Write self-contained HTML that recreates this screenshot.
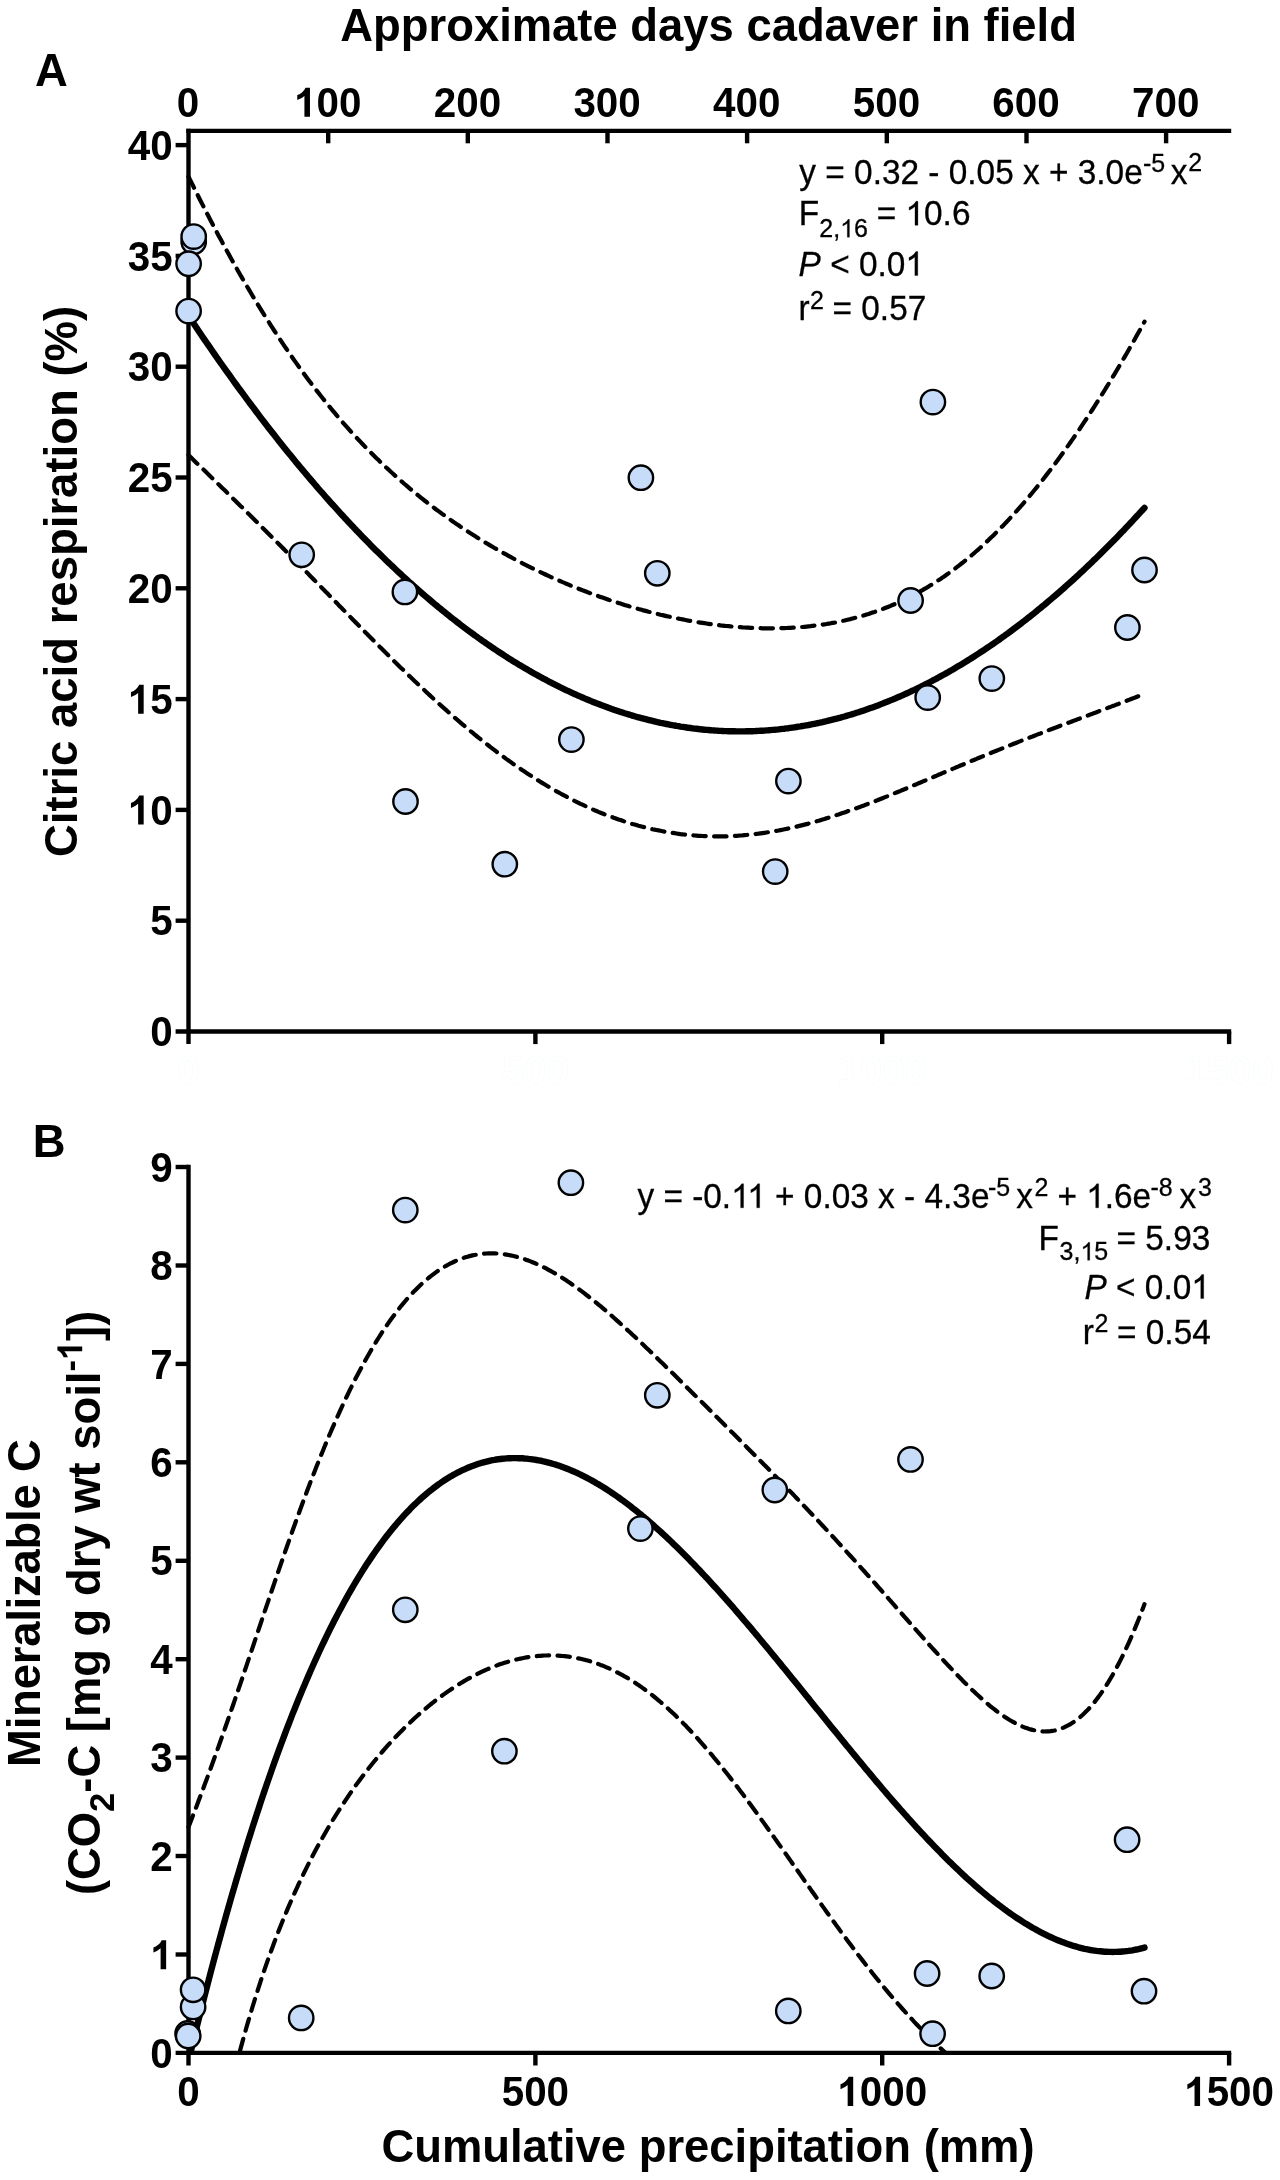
<!DOCTYPE html>
<html><head><meta charset="utf-8"><title>Figure</title>
<style>html,body{margin:0;padding:0;background:#fff}svg{display:block;will-change:transform}text{font-family:"Liberation Sans",sans-serif;fill:#000}.b{font-weight:bold}.r{font-weight:normal;stroke:#000;stroke-width:.3px}.r1{stroke:#000;stroke-width:18}.h{font-size:45.4px;font-weight:bold}.hs{font-size:34.5px;font-weight:bold}.ax{stroke:#000;stroke-width:4.4;fill:none;stroke-linecap:butt}.fit{stroke:#000;stroke-width:6.4;fill:none;stroke-linecap:round;stroke-linejoin:round}.ci{stroke:#000;stroke-width:4.2;fill:none;stroke-linecap:round;stroke-linejoin:round;stroke-dasharray:12.4 8.4}.pt{fill:#c7dcf8;stroke:#000;stroke-width:2.4}</style></head><body>
<svg width="1280" height="2180" viewBox="0 0 1280 2180">
<rect width="1280" height="2180" fill="#fff"/>
<defs><clipPath id="cb"><rect x="150" y="1100" width="1130" height="953"/></clipPath></defs>
<g class="ax">
<path d="M186.3 130.9 H1231.2"/>
<path d="M188.5 128.7 V1044.1"/>
<path d="M175.6 1031.5 H1231.2"/>
<path d="M328.2 130.9 V143.3"/>
<path d="M467.8 130.9 V143.3"/>
<path d="M607.5 130.9 V143.3"/>
<path d="M747.1 130.9 V143.3"/>
<path d="M886.8 130.9 V143.3"/>
<path d="M1026.5 130.9 V143.3"/>
<path d="M1166.1 130.9 V143.3"/>
<path d="M535.4 1031.5 V1044.1"/>
<path d="M882.2 1031.5 V1044.1"/>
<path d="M1229.1 1031.5 V1044.1"/>
<path d="M175.6 920.7 H188.5"/>
<path d="M175.6 809.9 H188.5"/>
<path d="M175.6 699.1 H188.5"/>
<path d="M175.6 588.3 H188.5"/>
<path d="M175.6 477.5 H188.5"/>
<path d="M175.6 366.7 H188.5"/>
<path d="M175.6 255.9 H188.5"/>
<path d="M175.6 145.1 H188.5"/>
<path d="M188.5 1164.8 V2065.5"/>
<path d="M175.6 2052.9 H1231.2"/>
<path d="M535.4 2052.9 V2065.5"/>
<path d="M882.2 2052.9 V2065.5"/>
<path d="M1229.1 2052.9 V2065.5"/>
<path d="M175.6 1954.5 H188.5"/>
<path d="M175.6 1856.0 H188.5"/>
<path d="M175.6 1757.6 H188.5"/>
<path d="M175.6 1659.2 H188.5"/>
<path d="M175.6 1560.8 H188.5"/>
<path d="M175.6 1462.3 H188.5"/>
<path d="M175.6 1363.9 H188.5"/>
<path d="M175.6 1265.5 H188.5"/>
<path d="M175.6 1167.0 H188.5"/>
</g>
<path class="ci" d="M188.5 176.6 L190.5 180.6 L192.5 184.7 L194.5 188.7 L196.5 192.7 L198.5 196.7 L200.5 200.7 L202.5 204.6 L204.5 208.6 L206.5 212.5 L208.5 216.3 L210.5 220.2 L212.5 224.0 L214.5 227.8 L216.5 231.6 L218.5 235.4 L220.5 239.1 L222.5 242.8 L224.5 246.5 L226.5 250.2 L228.5 253.8 L230.5 257.4 L232.5 261.0 L234.5 264.6 L236.5 268.1 L238.5 271.7 L240.5 275.2 L242.5 278.6 L244.5 282.1 L246.5 285.5 L248.5 288.9 L250.5 292.3 L252.5 295.7 L254.5 299.0 L256.5 302.3 L258.5 305.6 L260.5 308.8 L262.5 312.1 L264.5 315.3 L266.5 318.5 L268.5 321.6 L270.5 324.8 L272.5 327.9 L274.5 331.0 L276.5 334.0 L278.5 337.1 L280.5 340.1 L282.5 343.1 L284.5 346.1 L286.5 349.0 L288.5 351.9 L290.5 354.8 L292.5 357.7 L294.5 360.6 L296.5 363.4 L298.5 366.2 L300.5 369.0 L302.5 371.7 L304.5 374.5 L306.5 377.2 L308.5 379.9 L310.5 382.5 L312.5 385.2 L314.5 387.8 L316.5 390.4 L318.5 392.9 L320.5 395.5 L322.5 398.0 L324.5 400.5 L326.5 403.0 L328.5 405.5 L330.5 407.9 L332.5 410.3 L334.5 412.7 L336.5 415.1 L338.5 417.4 L340.5 419.8 L342.5 422.1 L344.5 424.4 L346.5 426.6 L348.5 428.9 L350.5 431.1 L352.5 433.3 L354.5 435.5 L356.5 437.6 L358.5 439.8 L360.5 441.9 L362.5 444.0 L364.5 446.1 L366.5 448.2 L368.5 450.2 L370.5 452.2 L372.5 454.2 L374.5 456.2 L376.5 458.2 L378.5 460.1 L380.5 462.1 L382.5 464.0 L384.5 465.9 L386.5 467.8 L388.5 469.6 L390.5 471.5 L392.5 473.3 L394.5 475.1 L396.5 476.9 L398.5 478.7 L400.5 480.5 L402.5 482.2 L404.5 484.0 L406.5 485.7 L408.5 487.4 L410.5 489.1 L412.5 490.7 L414.5 492.4 L416.5 494.0 L418.5 495.7 L420.5 497.3 L422.5 498.9 L424.5 500.5 L426.5 502.0 L428.5 503.6 L430.5 505.1 L432.5 506.6 L434.5 508.2 L436.5 509.7 L438.5 511.1 L440.5 512.6 L442.5 514.1 L444.5 515.5 L446.5 517.0 L448.5 518.4 L450.5 519.8 L452.5 521.2 L454.5 522.6 L456.5 524.0 L458.5 525.3 L460.5 526.7 L462.5 528.0 L464.5 529.3 L466.5 530.7 L468.5 532.0 L470.5 533.3 L472.5 534.5 L474.5 535.8 L476.5 537.1 L478.5 538.3 L480.5 539.6 L482.5 540.8 L484.5 542.0 L486.5 543.2 L488.5 544.4 L490.5 545.6 L492.5 546.8 L494.5 548.0 L496.5 549.1 L498.5 550.3 L500.5 551.4 L502.5 552.5 L504.5 553.6 L506.5 554.7 L508.5 555.8 L510.5 556.9 L512.5 558.0 L514.5 559.1 L516.5 560.1 L518.5 561.2 L520.5 562.2 L522.5 563.3 L524.5 564.3 L526.5 565.3 L528.5 566.3 L530.5 567.3 L532.5 568.3 L534.5 569.3 L536.5 570.2 L538.5 571.2 L540.5 572.2 L542.5 573.1 L544.5 574.0 L546.5 575.0 L548.5 575.9 L550.5 576.8 L552.5 577.7 L554.5 578.6 L556.5 579.5 L558.5 580.4 L560.5 581.2 L562.5 582.1 L564.5 582.9 L566.5 583.8 L568.5 584.6 L570.5 585.5 L572.5 586.3 L574.5 587.1 L576.5 587.9 L578.5 588.7 L580.5 589.5 L582.5 590.3 L584.5 591.0 L586.5 591.8 L588.5 592.6 L590.5 593.3 L592.5 594.0 L594.5 594.8 L596.5 595.5 L598.5 596.2 L600.5 596.9 L602.5 597.6 L604.5 598.3 L606.5 599.0 L608.5 599.7 L610.5 600.4 L612.5 601.0 L614.5 601.7 L616.5 602.3 L618.5 603.0 L620.5 603.6 L622.5 604.2 L624.5 604.9 L626.5 605.5 L628.5 606.1 L630.5 606.7 L632.5 607.3 L634.5 607.8 L636.5 608.4 L638.5 609.0 L640.5 609.5 L642.5 610.1 L644.5 610.6 L646.5 611.1 L648.5 611.7 L650.5 612.2 L652.5 612.7 L654.5 613.2 L656.5 613.7 L658.5 614.2 L660.5 614.7 L662.5 615.1 L664.5 615.6 L666.5 616.1 L668.5 616.5 L670.5 617.0 L672.5 617.4 L674.5 617.8 L676.5 618.2 L678.5 618.6 L680.5 619.0 L682.5 619.4 L684.5 619.8 L686.5 620.2 L688.5 620.6 L690.5 620.9 L692.5 621.3 L694.5 621.6 L696.5 622.0 L698.5 622.3 L700.5 622.6 L702.5 622.9 L704.5 623.2 L706.5 623.5 L708.5 623.8 L710.5 624.1 L712.5 624.4 L714.5 624.6 L716.5 624.9 L718.5 625.1 L720.5 625.4 L722.5 625.6 L724.5 625.8 L726.5 626.0 L728.5 626.2 L730.5 626.4 L732.5 626.6 L734.5 626.8 L736.5 626.9 L738.5 627.1 L740.5 627.2 L742.5 627.4 L744.5 627.5 L746.5 627.6 L748.5 627.7 L750.5 627.8 L752.5 627.9 L754.5 628.0 L756.5 628.1 L758.5 628.2 L760.5 628.2 L762.5 628.3 L764.5 628.3 L766.5 628.3 L768.5 628.3 L770.5 628.3 L772.5 628.3 L774.5 628.3 L776.5 628.3 L778.5 628.3 L780.5 628.2 L782.5 628.1 L784.5 628.1 L786.5 628.0 L788.5 627.9 L790.5 627.8 L792.5 627.7 L794.5 627.6 L796.5 627.4 L798.5 627.3 L800.5 627.1 L802.5 627.0 L804.5 626.8 L806.5 626.6 L808.5 626.4 L810.5 626.2 L812.5 625.9 L814.5 625.7 L816.5 625.4 L818.5 625.2 L820.5 624.9 L822.5 624.6 L824.5 624.3 L826.5 624.0 L828.5 623.6 L830.5 623.3 L832.5 622.9 L834.5 622.6 L836.5 622.2 L838.5 621.8 L840.5 621.3 L842.5 620.9 L844.5 620.5 L846.5 620.0 L848.5 619.5 L850.5 619.1 L852.5 618.5 L854.5 618.0 L856.5 617.5 L858.5 616.9 L860.5 616.4 L862.5 615.8 L864.5 615.2 L866.5 614.6 L868.5 614.0 L870.5 613.3 L872.5 612.6 L874.5 612.0 L876.5 611.3 L878.5 610.6 L880.5 609.8 L882.5 609.1 L884.5 608.3 L886.5 607.5 L888.5 606.7 L890.5 605.9 L892.5 605.0 L894.5 604.2 L896.5 603.3 L898.5 602.4 L900.5 601.5 L902.5 600.6 L904.5 599.6 L906.5 598.6 L908.5 597.6 L910.5 596.6 L912.5 595.6 L914.5 594.5 L916.5 593.5 L918.5 592.4 L920.5 591.2 L922.5 590.1 L924.5 588.9 L926.5 587.8 L928.5 586.6 L930.5 585.3 L932.5 584.1 L934.5 582.8 L936.5 581.5 L938.5 580.2 L940.5 578.9 L942.5 577.6 L944.5 576.2 L946.5 574.8 L948.5 573.4 L950.5 571.9 L952.5 570.4 L954.5 569.0 L956.5 567.4 L958.5 565.9 L960.5 564.3 L962.5 562.8 L964.5 561.2 L966.5 559.5 L968.5 557.9 L970.5 556.2 L972.5 554.5 L974.5 552.8 L976.5 551.0 L978.5 549.3 L980.5 547.5 L982.5 545.6 L984.5 543.8 L986.5 541.9 L988.5 540.1 L990.5 538.1 L992.5 536.2 L994.5 534.2 L996.5 532.3 L998.5 530.2 L1000.5 528.2 L1002.5 526.2 L1004.5 524.1 L1006.5 522.0 L1008.5 519.9 L1010.5 517.7 L1012.5 515.5 L1014.5 513.3 L1016.5 511.1 L1018.5 508.9 L1020.5 506.6 L1022.5 504.3 L1024.5 502.0 L1026.5 499.6 L1028.5 497.3 L1030.5 494.9 L1032.5 492.5 L1034.5 490.0 L1036.5 487.6 L1038.5 485.1 L1040.5 482.6 L1042.5 480.1 L1044.5 477.5 L1046.5 474.9 L1048.5 472.3 L1050.5 469.7 L1052.5 467.1 L1054.5 464.4 L1056.5 461.7 L1058.5 459.0 L1060.5 456.3 L1062.5 453.5 L1064.5 450.7 L1066.5 447.9 L1068.5 445.1 L1070.5 442.3 L1072.5 439.4 L1074.5 436.5 L1076.5 433.6 L1078.5 430.7 L1080.5 427.7 L1082.5 424.7 L1084.5 421.7 L1086.5 418.7 L1088.5 415.6 L1090.5 412.6 L1092.5 409.5 L1094.5 406.4 L1096.5 403.2 L1098.5 400.1 L1100.5 396.9 L1102.5 393.7 L1104.5 390.5 L1106.5 387.2 L1108.5 384.0 L1110.5 380.7 L1112.5 377.4 L1114.5 374.1 L1116.5 370.7 L1118.5 367.4 L1120.5 364.0 L1122.5 360.6 L1124.5 357.1 L1126.5 353.7 L1128.5 350.2 L1130.5 346.7 L1132.5 343.2 L1134.5 339.7 L1136.5 336.1 L1138.5 332.5 L1140.5 328.9 L1142.5 325.3 L1144.5 321.7"/>
<path class="ci" d="M188.5 455.1 L190.5 457.0 L192.5 459.0 L194.5 460.9 L196.5 462.9 L198.5 464.8 L200.5 466.7 L202.5 468.7 L204.5 470.6 L206.5 472.6 L208.5 474.5 L210.5 476.5 L212.5 478.4 L214.5 480.4 L216.5 482.3 L218.5 484.3 L220.5 486.2 L222.5 488.2 L224.5 490.1 L226.5 492.1 L228.5 494.1 L230.5 496.0 L232.5 498.0 L234.5 499.9 L236.5 501.9 L238.5 503.9 L240.5 505.9 L242.5 507.8 L244.5 509.8 L246.5 511.8 L248.5 513.8 L250.5 515.7 L252.5 517.7 L254.5 519.7 L256.5 521.7 L258.5 523.7 L260.5 525.7 L262.5 527.7 L264.5 529.7 L266.5 531.7 L268.5 533.7 L270.5 535.7 L272.5 537.7 L274.5 539.7 L276.5 541.7 L278.5 543.7 L280.5 545.7 L282.5 547.7 L284.5 549.8 L286.5 551.8 L288.5 553.8 L290.5 555.8 L292.5 557.9 L294.5 559.9 L296.5 561.9 L298.5 564.0 L300.5 566.0 L302.5 568.0 L304.5 570.1 L306.5 572.1 L308.5 574.1 L310.5 576.2 L312.5 578.2 L314.5 580.3 L316.5 582.3 L318.5 584.4 L320.5 586.4 L322.5 588.5 L324.5 590.5 L326.5 592.6 L328.5 594.6 L330.5 596.7 L332.5 598.7 L334.5 600.8 L336.5 602.8 L338.5 604.9 L340.5 606.9 L342.5 609.0 L344.5 611.0 L346.5 613.1 L348.5 615.1 L350.5 617.1 L352.5 619.2 L354.5 621.2 L356.5 623.3 L358.5 625.3 L360.5 627.3 L362.5 629.4 L364.5 631.4 L366.5 633.4 L368.5 635.5 L370.5 637.5 L372.5 639.5 L374.5 641.5 L376.5 643.5 L378.5 645.5 L380.5 647.6 L382.5 649.6 L384.5 651.6 L386.5 653.5 L388.5 655.5 L390.5 657.5 L392.5 659.5 L394.5 661.5 L396.5 663.4 L398.5 665.4 L400.5 667.4 L402.5 669.3 L404.5 671.3 L406.5 673.2 L408.5 675.1 L410.5 677.1 L412.5 679.0 L414.5 680.9 L416.5 682.8 L418.5 684.7 L420.5 686.6 L422.5 688.5 L424.5 690.3 L426.5 692.2 L428.5 694.1 L430.5 695.9 L432.5 697.8 L434.5 699.6 L436.5 701.4 L438.5 703.2 L440.5 705.1 L442.5 706.9 L444.5 708.6 L446.5 710.4 L448.5 712.2 L450.5 714.0 L452.5 715.7 L454.5 717.5 L456.5 719.2 L458.5 720.9 L460.5 722.6 L462.5 724.3 L464.5 726.0 L466.5 727.7 L468.5 729.4 L470.5 731.1 L472.5 732.7 L474.5 734.4 L476.5 736.0 L478.5 737.6 L480.5 739.2 L482.5 740.8 L484.5 742.4 L486.5 744.0 L488.5 745.5 L490.5 747.1 L492.5 748.6 L494.5 750.1 L496.5 751.7 L498.5 753.2 L500.5 754.7 L502.5 756.1 L504.5 757.6 L506.5 759.1 L508.5 760.5 L510.5 761.9 L512.5 763.4 L514.5 764.8 L516.5 766.2 L518.5 767.5 L520.5 768.9 L522.5 770.3 L524.5 771.6 L526.5 772.9 L528.5 774.2 L530.5 775.5 L532.5 776.8 L534.5 778.1 L536.5 779.4 L538.5 780.6 L540.5 781.9 L542.5 783.1 L544.5 784.3 L546.5 785.5 L548.5 786.7 L550.5 787.9 L552.5 789.0 L554.5 790.2 L556.5 791.3 L558.5 792.4 L560.5 793.5 L562.5 794.6 L564.5 795.7 L566.5 796.7 L568.5 797.8 L570.5 798.8 L572.5 799.8 L574.5 800.9 L576.5 801.8 L578.5 802.8 L580.5 803.8 L582.5 804.7 L584.5 805.7 L586.5 806.6 L588.5 807.5 L590.5 808.4 L592.5 809.3 L594.5 810.2 L596.5 811.0 L598.5 811.9 L600.5 812.7 L602.5 813.5 L604.5 814.3 L606.5 815.1 L608.5 815.8 L610.5 816.6 L612.5 817.3 L614.5 818.1 L616.5 818.8 L618.5 819.5 L620.5 820.1 L622.5 820.8 L624.5 821.5 L626.5 822.1 L628.5 822.7 L630.5 823.4 L632.5 824.0 L634.5 824.5 L636.5 825.1 L638.5 825.7 L640.5 826.2 L642.5 826.7 L644.5 827.2 L646.5 827.7 L648.5 828.2 L650.5 828.7 L652.5 829.2 L654.5 829.6 L656.5 830.0 L658.5 830.4 L660.5 830.8 L662.5 831.2 L664.5 831.6 L666.5 832.0 L668.5 832.3 L670.5 832.6 L672.5 832.9 L674.5 833.2 L676.5 833.5 L678.5 833.8 L680.5 834.1 L682.5 834.3 L684.5 834.5 L686.5 834.8 L688.5 835.0 L690.5 835.2 L692.5 835.3 L694.5 835.5 L696.5 835.6 L698.5 835.8 L700.5 835.9 L702.5 836.0 L704.5 836.1 L706.5 836.2 L708.5 836.3 L710.5 836.3 L712.5 836.3 L714.5 836.4 L716.5 836.4 L718.5 836.4 L720.5 836.4 L722.5 836.3 L724.5 836.3 L726.5 836.3 L728.5 836.2 L730.5 836.1 L732.5 836.0 L734.5 835.9 L736.5 835.8 L738.5 835.7 L740.5 835.5 L742.5 835.4 L744.5 835.2 L746.5 835.0 L748.5 834.8 L750.5 834.6 L752.5 834.4 L754.5 834.2 L756.5 833.9 L758.5 833.7 L760.5 833.4 L762.5 833.1 L764.5 832.8 L766.5 832.5 L768.5 832.2 L770.5 831.9 L772.5 831.5 L774.5 831.2 L776.5 830.8 L778.5 830.5 L780.5 830.1 L782.5 829.7 L784.5 829.3 L786.5 828.9 L788.5 828.4 L790.5 828.0 L792.5 827.5 L794.5 827.1 L796.5 826.6 L798.5 826.1 L800.5 825.6 L802.5 825.1 L804.5 824.6 L806.5 824.1 L808.5 823.6 L810.5 823.0 L812.5 822.5 L814.5 821.9 L816.5 821.3 L818.5 820.8 L820.5 820.2 L822.5 819.6 L824.5 819.0 L826.5 818.3 L828.5 817.7 L830.5 817.1 L832.5 816.5 L834.5 815.8 L836.5 815.1 L838.5 814.5 L840.5 813.8 L842.5 813.1 L844.5 812.4 L846.5 811.7 L848.5 811.0 L850.5 810.3 L852.5 809.6 L854.5 808.9 L856.5 808.2 L858.5 807.4 L860.5 806.7 L862.5 805.9 L864.5 805.2 L866.5 804.4 L868.5 803.7 L870.5 802.9 L872.5 802.1 L874.5 801.4 L876.5 800.6 L878.5 799.8 L880.5 799.0 L882.5 798.2 L884.5 797.4 L886.5 796.6 L888.5 795.8 L890.5 795.0 L892.5 794.1 L894.5 793.3 L896.5 792.5 L898.5 791.7 L900.5 790.9 L902.5 790.0 L904.5 789.2 L906.5 788.4 L908.5 787.5 L910.5 786.7 L912.5 785.8 L914.5 785.0 L916.5 784.2 L918.5 783.3 L920.5 782.5 L922.5 781.6 L924.5 780.8 L926.5 779.9 L928.5 779.1 L930.5 778.2 L932.5 777.4 L934.5 776.5 L936.5 775.7 L938.5 774.8 L940.5 774.0 L942.5 773.1 L944.5 772.3 L946.5 771.4 L948.5 770.6 L950.5 769.7 L952.5 768.9 L954.5 768.1 L956.5 767.2 L958.5 766.4 L960.5 765.5 L962.5 764.7 L964.5 763.9 L966.5 763.0 L968.5 762.2 L970.5 761.4 L972.5 760.5 L974.5 759.7 L976.5 758.9 L978.5 758.0 L980.5 757.2 L982.5 756.4 L984.5 755.6 L986.5 754.8 L988.5 753.9 L990.5 753.1 L992.5 752.3 L994.5 751.5 L996.5 750.7 L998.5 749.9 L1000.5 749.1 L1002.5 748.3 L1004.5 747.5 L1006.5 746.7 L1008.5 745.9 L1010.5 745.1 L1012.5 744.3 L1014.5 743.5 L1016.5 742.7 L1018.5 741.9 L1020.5 741.1 L1022.5 740.3 L1024.5 739.6 L1026.5 738.8 L1028.5 738.0 L1030.5 737.2 L1032.5 736.5 L1034.5 735.7 L1036.5 734.9 L1038.5 734.1 L1040.5 733.4 L1042.5 732.6 L1044.5 731.8 L1046.5 731.1 L1048.5 730.3 L1050.5 729.5 L1052.5 728.8 L1054.5 728.0 L1056.5 727.3 L1058.5 726.5 L1060.5 725.7 L1062.5 725.0 L1064.5 724.2 L1066.5 723.5 L1068.5 722.7 L1070.5 722.0 L1072.5 721.2 L1074.5 720.4 L1076.5 719.7 L1078.5 718.9 L1080.5 718.2 L1082.5 717.4 L1084.5 716.7 L1086.5 715.9 L1088.5 715.2 L1090.5 714.4 L1092.5 713.7 L1094.5 712.9 L1096.5 712.2 L1098.5 711.4 L1100.5 710.7 L1102.5 709.9 L1104.5 709.2 L1106.5 708.4 L1108.5 707.6 L1110.5 706.9 L1112.5 706.1 L1114.5 705.4 L1116.5 704.6 L1118.5 703.9 L1120.5 703.1 L1122.5 702.3 L1124.5 701.6 L1126.5 700.8 L1128.5 700.1 L1130.5 699.3 L1132.5 698.5 L1134.5 697.8 L1136.5 697.0 L1138.5 696.2 L1140.5 695.5 L1142.5 694.7 L1144.5 693.9"/>
<path class="fit" d="M188.5 315.8 L190.5 318.8 L192.5 321.8 L194.5 324.8 L196.5 327.8 L198.5 330.8 L200.5 333.7 L202.5 336.7 L204.5 339.6 L206.5 342.5 L208.5 345.4 L210.5 348.3 L212.5 351.2 L214.5 354.1 L216.5 357.0 L218.5 359.8 L220.5 362.7 L222.5 365.5 L224.5 368.3 L226.5 371.1 L228.5 373.9 L230.5 376.7 L232.5 379.5 L234.5 382.3 L236.5 385.0 L238.5 387.8 L240.5 390.5 L242.5 393.2 L244.5 395.9 L246.5 398.6 L248.5 401.3 L250.5 404.0 L252.5 406.7 L254.5 409.3 L256.5 412.0 L258.5 414.6 L260.5 417.3 L262.5 419.9 L264.5 422.5 L266.5 425.1 L268.5 427.7 L270.5 430.2 L272.5 432.8 L274.5 435.3 L276.5 437.9 L278.5 440.4 L280.5 442.9 L282.5 445.4 L284.5 447.9 L286.5 450.4 L288.5 452.9 L290.5 455.3 L292.5 457.8 L294.5 460.2 L296.5 462.7 L298.5 465.1 L300.5 467.5 L302.5 469.9 L304.5 472.3 L306.5 474.6 L308.5 477.0 L310.5 479.4 L312.5 481.7 L314.5 484.0 L316.5 486.3 L318.5 488.7 L320.5 491.0 L322.5 493.2 L324.5 495.5 L326.5 497.8 L328.5 500.0 L330.5 502.3 L332.5 504.5 L334.5 506.7 L336.5 508.9 L338.5 511.1 L340.5 513.3 L342.5 515.5 L344.5 517.7 L346.5 519.8 L348.5 522.0 L350.5 524.1 L352.5 526.2 L354.5 528.4 L356.5 530.5 L358.5 532.5 L360.5 534.6 L362.5 536.7 L364.5 538.7 L366.5 540.8 L368.5 542.8 L370.5 544.9 L372.5 546.9 L374.5 548.9 L376.5 550.9 L378.5 552.8 L380.5 554.8 L382.5 556.8 L384.5 558.7 L386.5 560.7 L388.5 562.6 L390.5 564.5 L392.5 566.4 L394.5 568.3 L396.5 570.2 L398.5 572.1 L400.5 573.9 L402.5 575.8 L404.5 577.6 L406.5 579.4 L408.5 581.3 L410.5 583.1 L412.5 584.9 L414.5 586.6 L416.5 588.4 L418.5 590.2 L420.5 591.9 L422.5 593.7 L424.5 595.4 L426.5 597.1 L428.5 598.8 L430.5 600.5 L432.5 602.2 L434.5 603.9 L436.5 605.5 L438.5 607.2 L440.5 608.8 L442.5 610.5 L444.5 612.1 L446.5 613.7 L448.5 615.3 L450.5 616.9 L452.5 618.5 L454.5 620.0 L456.5 621.6 L458.5 623.1 L460.5 624.7 L462.5 626.2 L464.5 627.7 L466.5 629.2 L468.5 630.7 L470.5 632.2 L472.5 633.6 L474.5 635.1 L476.5 636.5 L478.5 638.0 L480.5 639.4 L482.5 640.8 L484.5 642.2 L486.5 643.6 L488.5 645.0 L490.5 646.3 L492.5 647.7 L494.5 649.0 L496.5 650.4 L498.5 651.7 L500.5 653.0 L502.5 654.3 L504.5 655.6 L506.5 656.9 L508.5 658.2 L510.5 659.4 L512.5 660.7 L514.5 661.9 L516.5 663.1 L518.5 664.4 L520.5 665.6 L522.5 666.8 L524.5 667.9 L526.5 669.1 L528.5 670.3 L530.5 671.4 L532.5 672.6 L534.5 673.7 L536.5 674.8 L538.5 675.9 L540.5 677.0 L542.5 678.1 L544.5 679.2 L546.5 680.2 L548.5 681.3 L550.5 682.3 L552.5 683.4 L554.5 684.4 L556.5 685.4 L558.5 686.4 L560.5 687.4 L562.5 688.3 L564.5 689.3 L566.5 690.3 L568.5 691.2 L570.5 692.1 L572.5 693.1 L574.5 694.0 L576.5 694.9 L578.5 695.8 L580.5 696.6 L582.5 697.5 L584.5 698.4 L586.5 699.2 L588.5 700.0 L590.5 700.9 L592.5 701.7 L594.5 702.5 L596.5 703.3 L598.5 704.0 L600.5 704.8 L602.5 705.6 L604.5 706.3 L606.5 707.0 L608.5 707.8 L610.5 708.5 L612.5 709.2 L614.5 709.9 L616.5 710.6 L618.5 711.2 L620.5 711.9 L622.5 712.5 L624.5 713.2 L626.5 713.8 L628.5 714.4 L630.5 715.0 L632.5 715.6 L634.5 716.2 L636.5 716.8 L638.5 717.3 L640.5 717.9 L642.5 718.4 L644.5 718.9 L646.5 719.4 L648.5 720.0 L650.5 720.4 L652.5 720.9 L654.5 721.4 L656.5 721.9 L658.5 722.3 L660.5 722.8 L662.5 723.2 L664.5 723.6 L666.5 724.0 L668.5 724.4 L670.5 724.8 L672.5 725.2 L674.5 725.5 L676.5 725.9 L678.5 726.2 L680.5 726.6 L682.5 726.9 L684.5 727.2 L686.5 727.5 L688.5 727.8 L690.5 728.0 L692.5 728.3 L694.5 728.6 L696.5 728.8 L698.5 729.0 L700.5 729.3 L702.5 729.5 L704.5 729.7 L706.5 729.9 L708.5 730.0 L710.5 730.2 L712.5 730.4 L714.5 730.5 L716.5 730.6 L718.5 730.8 L720.5 730.9 L722.5 731.0 L724.5 731.1 L726.5 731.1 L728.5 731.2 L730.5 731.3 L732.5 731.3 L734.5 731.3 L736.5 731.4 L738.5 731.4 L740.5 731.4 L742.5 731.4 L744.5 731.4 L746.5 731.3 L748.5 731.3 L750.5 731.2 L752.5 731.2 L754.5 731.1 L756.5 731.0 L758.5 730.9 L760.5 730.8 L762.5 730.7 L764.5 730.6 L766.5 730.4 L768.5 730.3 L770.5 730.1 L772.5 729.9 L774.5 729.8 L776.5 729.6 L778.5 729.4 L780.5 729.1 L782.5 728.9 L784.5 728.7 L786.5 728.4 L788.5 728.2 L790.5 727.9 L792.5 727.6 L794.5 727.3 L796.5 727.0 L798.5 726.7 L800.5 726.4 L802.5 726.0 L804.5 725.7 L806.5 725.3 L808.5 725.0 L810.5 724.6 L812.5 724.2 L814.5 723.8 L816.5 723.4 L818.5 723.0 L820.5 722.5 L822.5 722.1 L824.5 721.6 L826.5 721.2 L828.5 720.7 L830.5 720.2 L832.5 719.7 L834.5 719.2 L836.5 718.7 L838.5 718.1 L840.5 717.6 L842.5 717.0 L844.5 716.5 L846.5 715.9 L848.5 715.3 L850.5 714.7 L852.5 714.1 L854.5 713.5 L856.5 712.8 L858.5 712.2 L860.5 711.5 L862.5 710.9 L864.5 710.2 L866.5 709.5 L868.5 708.8 L870.5 708.1 L872.5 707.4 L874.5 706.7 L876.5 705.9 L878.5 705.2 L880.5 704.4 L882.5 703.6 L884.5 702.8 L886.5 702.1 L888.5 701.2 L890.5 700.4 L892.5 699.6 L894.5 698.8 L896.5 697.9 L898.5 697.0 L900.5 696.2 L902.5 695.3 L904.5 694.4 L906.5 693.5 L908.5 692.6 L910.5 691.7 L912.5 690.7 L914.5 689.8 L916.5 688.8 L918.5 687.8 L920.5 686.9 L922.5 685.9 L924.5 684.9 L926.5 683.8 L928.5 682.8 L930.5 681.8 L932.5 680.7 L934.5 679.7 L936.5 678.6 L938.5 677.5 L940.5 676.4 L942.5 675.3 L944.5 674.2 L946.5 673.1 L948.5 672.0 L950.5 670.8 L952.5 669.7 L954.5 668.5 L956.5 667.3 L958.5 666.1 L960.5 664.9 L962.5 663.7 L964.5 662.5 L966.5 661.3 L968.5 660.0 L970.5 658.8 L972.5 657.5 L974.5 656.2 L976.5 654.9 L978.5 653.6 L980.5 652.3 L982.5 651.0 L984.5 649.7 L986.5 648.3 L988.5 647.0 L990.5 645.6 L992.5 644.3 L994.5 642.9 L996.5 641.5 L998.5 640.1 L1000.5 638.6 L1002.5 637.2 L1004.5 635.8 L1006.5 634.3 L1008.5 632.9 L1010.5 631.4 L1012.5 629.9 L1014.5 628.4 L1016.5 626.9 L1018.5 625.4 L1020.5 623.9 L1022.5 622.3 L1024.5 620.8 L1026.5 619.2 L1028.5 617.6 L1030.5 616.1 L1032.5 614.5 L1034.5 612.9 L1036.5 611.2 L1038.5 609.6 L1040.5 608.0 L1042.5 606.3 L1044.5 604.7 L1046.5 603.0 L1048.5 601.3 L1050.5 599.6 L1052.5 597.9 L1054.5 596.2 L1056.5 594.5 L1058.5 592.8 L1060.5 591.0 L1062.5 589.3 L1064.5 587.5 L1066.5 585.7 L1068.5 583.9 L1070.5 582.1 L1072.5 580.3 L1074.5 578.5 L1076.5 576.6 L1078.5 574.8 L1080.5 572.9 L1082.5 571.1 L1084.5 569.2 L1086.5 567.3 L1088.5 565.4 L1090.5 563.5 L1092.5 561.6 L1094.5 559.6 L1096.5 557.7 L1098.5 555.8 L1100.5 553.8 L1102.5 551.8 L1104.5 549.8 L1106.5 547.8 L1108.5 545.8 L1110.5 543.8 L1112.5 541.8 L1114.5 539.7 L1116.5 537.7 L1118.5 535.6 L1120.5 533.5 L1122.5 531.4 L1124.5 529.4 L1126.5 527.2 L1128.5 525.1 L1130.5 523.0 L1132.5 520.9 L1134.5 518.7 L1136.5 516.5 L1138.5 514.4 L1140.5 512.2 L1142.5 510.0 L1144.5 507.8"/>
<g clip-path="url(#cb)">
<path class="ci" d="M188.5 1827.1 L190.5 1822.0 L192.5 1816.8 L194.5 1811.6 L196.5 1806.4 L198.5 1801.1 L200.5 1795.8 L202.5 1790.5 L204.5 1785.1 L206.5 1779.7 L208.5 1774.3 L210.5 1768.8 L212.5 1763.3 L214.5 1757.8 L216.5 1752.3 L218.5 1746.7 L220.5 1741.0 L222.5 1735.4 L224.5 1729.7 L226.5 1724.0 L228.5 1718.3 L230.5 1712.5 L232.5 1706.7 L234.5 1700.9 L236.5 1695.1 L238.5 1689.2 L240.5 1683.3 L242.5 1677.4 L244.5 1671.5 L246.5 1665.6 L248.5 1659.7 L250.5 1653.7 L252.5 1647.8 L254.5 1641.9 L256.5 1635.9 L258.5 1629.9 L260.5 1624.0 L262.5 1618.0 L264.5 1612.1 L266.5 1606.2 L268.5 1600.3 L270.5 1594.3 L272.5 1588.5 L274.5 1582.6 L276.5 1576.7 L278.5 1570.9 L280.5 1565.1 L282.5 1559.3 L284.5 1553.5 L286.5 1547.8 L288.5 1542.1 L290.5 1536.5 L292.5 1530.8 L294.5 1525.2 L296.5 1519.7 L298.5 1514.2 L300.5 1508.7 L302.5 1503.3 L304.5 1497.9 L306.5 1492.6 L308.5 1487.3 L310.5 1482.0 L312.5 1476.8 L314.5 1471.7 L316.5 1466.6 L318.5 1461.6 L320.5 1456.6 L322.5 1451.7 L324.5 1446.8 L326.5 1442.0 L328.5 1437.2 L330.5 1432.5 L332.5 1427.9 L334.5 1423.3 L336.5 1418.7 L338.5 1414.3 L340.5 1409.9 L342.5 1405.5 L344.5 1401.2 L346.5 1397.0 L348.5 1392.8 L350.5 1388.7 L352.5 1384.7 L354.5 1380.7 L356.5 1376.8 L358.5 1373.0 L360.5 1369.2 L362.5 1365.5 L364.5 1361.8 L366.5 1358.2 L368.5 1354.7 L370.5 1351.2 L372.5 1347.8 L374.5 1344.5 L376.5 1341.2 L378.5 1338.0 L380.5 1334.8 L382.5 1331.7 L384.5 1328.7 L386.5 1325.8 L388.5 1322.9 L390.5 1320.0 L392.5 1317.3 L394.5 1314.6 L396.5 1311.9 L398.5 1309.3 L400.5 1306.8 L402.5 1304.4 L404.5 1302.0 L406.5 1299.6 L408.5 1297.4 L410.5 1295.2 L412.5 1293.0 L414.5 1290.9 L416.5 1288.9 L418.5 1286.9 L420.5 1285.0 L422.5 1283.2 L424.5 1281.4 L426.5 1279.7 L428.5 1278.0 L430.5 1276.4 L432.5 1274.9 L434.5 1273.4 L436.5 1271.9 L438.5 1270.5 L440.5 1269.2 L442.5 1268.0 L444.5 1266.7 L446.5 1265.6 L448.5 1264.5 L450.5 1263.4 L452.5 1262.5 L454.5 1261.5 L456.5 1260.6 L458.5 1259.8 L460.5 1259.0 L462.5 1258.3 L464.5 1257.6 L466.5 1257.0 L468.5 1256.4 L470.5 1255.9 L472.5 1255.4 L474.5 1255.0 L476.5 1254.6 L478.5 1254.3 L480.5 1254.0 L482.5 1253.8 L484.5 1253.6 L486.5 1253.5 L488.5 1253.4 L490.5 1253.4 L492.5 1253.4 L494.5 1253.4 L496.5 1253.5 L498.5 1253.6 L500.5 1253.8 L502.5 1254.0 L504.5 1254.3 L506.5 1254.6 L508.5 1255.0 L510.5 1255.4 L512.5 1255.8 L514.5 1256.2 L516.5 1256.8 L518.5 1257.3 L520.5 1257.9 L522.5 1258.5 L524.5 1259.2 L526.5 1259.9 L528.5 1260.6 L530.5 1261.4 L532.5 1262.2 L534.5 1263.0 L536.5 1263.9 L538.5 1264.8 L540.5 1265.7 L542.5 1266.7 L544.5 1267.7 L546.5 1268.7 L548.5 1269.8 L550.5 1270.9 L552.5 1272.0 L554.5 1273.1 L556.5 1274.3 L558.5 1275.5 L560.5 1276.7 L562.5 1278.0 L564.5 1279.3 L566.5 1280.6 L568.5 1281.9 L570.5 1283.3 L572.5 1284.7 L574.5 1286.1 L576.5 1287.5 L578.5 1289.0 L580.5 1290.4 L582.5 1291.9 L584.5 1293.4 L586.5 1295.0 L588.5 1296.5 L590.5 1298.1 L592.5 1299.7 L594.5 1301.3 L596.5 1302.9 L598.5 1304.6 L600.5 1306.2 L602.5 1307.9 L604.5 1309.6 L606.5 1311.3 L608.5 1313.0 L610.5 1314.8 L612.5 1316.5 L614.5 1318.3 L616.5 1320.1 L618.5 1321.9 L620.5 1323.7 L622.5 1325.5 L624.5 1327.3 L626.5 1329.1 L628.5 1331.0 L630.5 1332.8 L632.5 1334.7 L634.5 1336.5 L636.5 1338.4 L638.5 1340.3 L640.5 1342.2 L642.5 1344.1 L644.5 1346.0 L646.5 1347.9 L648.5 1349.8 L650.5 1351.7 L652.5 1353.6 L654.5 1355.6 L656.5 1357.5 L658.5 1359.5 L660.5 1361.4 L662.5 1363.3 L664.5 1365.3 L666.5 1367.3 L668.5 1369.2 L670.5 1371.2 L672.5 1373.1 L674.5 1375.1 L676.5 1377.1 L678.5 1379.1 L680.5 1381.0 L682.5 1383.0 L684.5 1385.0 L686.5 1387.0 L688.5 1388.9 L690.5 1390.9 L692.5 1392.9 L694.5 1394.9 L696.5 1396.9 L698.5 1398.9 L700.5 1400.9 L702.5 1402.8 L704.5 1404.8 L706.5 1406.8 L708.5 1408.8 L710.5 1410.8 L712.5 1412.8 L714.5 1414.8 L716.5 1416.8 L718.5 1418.8 L720.5 1420.8 L722.5 1422.8 L724.5 1424.8 L726.5 1426.8 L728.5 1428.8 L730.5 1430.8 L732.5 1432.8 L734.5 1434.8 L736.5 1436.8 L738.5 1438.8 L740.5 1440.8 L742.5 1442.8 L744.5 1444.8 L746.5 1446.9 L748.5 1448.9 L750.5 1450.9 L752.5 1452.9 L754.5 1454.9 L756.5 1457.0 L758.5 1459.0 L760.5 1461.0 L762.5 1463.0 L764.5 1465.1 L766.5 1467.1 L768.5 1469.1 L770.5 1471.2 L772.5 1473.2 L774.5 1475.3 L776.5 1477.3 L778.5 1479.4 L780.5 1481.4 L782.5 1483.5 L784.5 1485.5 L786.5 1487.6 L788.5 1489.7 L790.5 1491.8 L792.5 1493.8 L794.5 1495.9 L796.5 1498.0 L798.5 1500.1 L800.5 1502.2 L802.5 1504.3 L804.5 1506.4 L806.5 1508.5 L808.5 1510.6 L810.5 1512.7 L812.5 1514.8 L814.5 1517.0 L816.5 1519.1 L818.5 1521.2 L820.5 1523.4 L822.5 1525.5 L824.5 1527.6 L826.5 1529.8 L828.5 1531.9 L830.5 1534.1 L832.5 1536.3 L834.5 1538.4 L836.5 1540.6 L838.5 1542.8 L840.5 1545.0 L842.5 1547.2 L844.5 1549.4 L846.5 1551.6 L848.5 1553.8 L850.5 1556.0 L852.5 1558.2 L854.5 1560.4 L856.5 1562.6 L858.5 1564.8 L860.5 1567.1 L862.5 1569.3 L864.5 1571.5 L866.5 1573.8 L868.5 1576.0 L870.5 1578.2 L872.5 1580.5 L874.5 1582.7 L876.5 1585.0 L878.5 1587.3 L880.5 1589.5 L882.5 1591.8 L884.5 1594.0 L886.5 1596.3 L888.5 1598.6 L890.5 1600.8 L892.5 1603.1 L894.5 1605.4 L896.5 1607.7 L898.5 1609.9 L900.5 1612.2 L902.5 1614.5 L904.5 1616.8 L906.5 1619.0 L908.5 1621.3 L910.5 1623.6 L912.5 1625.8 L914.5 1628.1 L916.5 1630.4 L918.5 1632.6 L920.5 1634.9 L922.5 1637.1 L924.5 1639.4 L926.5 1641.6 L928.5 1643.9 L930.5 1646.1 L932.5 1648.3 L934.5 1650.5 L936.5 1652.7 L938.5 1654.9 L940.5 1657.1 L942.5 1659.3 L944.5 1661.5 L946.5 1663.6 L948.5 1665.8 L950.5 1667.9 L952.5 1670.0 L954.5 1672.1 L956.5 1674.2 L958.5 1676.3 L960.5 1678.3 L962.5 1680.4 L964.5 1682.4 L966.5 1684.4 L968.5 1686.3 L970.5 1688.3 L972.5 1690.2 L974.5 1692.1 L976.5 1694.0 L978.5 1695.8 L980.5 1697.6 L982.5 1699.4 L984.5 1701.2 L986.5 1702.9 L988.5 1704.6 L990.5 1706.3 L992.5 1707.9 L994.5 1709.4 L996.5 1711.0 L998.5 1712.5 L1000.5 1713.9 L1002.5 1715.3 L1004.5 1716.7 L1006.5 1718.0 L1008.5 1719.3 L1010.5 1720.5 L1012.5 1721.6 L1014.5 1722.7 L1016.5 1723.8 L1018.5 1724.8 L1020.5 1725.7 L1022.5 1726.6 L1024.5 1727.4 L1026.5 1728.1 L1028.5 1728.8 L1030.5 1729.4 L1032.5 1729.9 L1034.5 1730.3 L1036.5 1730.7 L1038.5 1731.0 L1040.5 1731.3 L1042.5 1731.4 L1044.5 1731.5 L1046.5 1731.4 L1048.5 1731.3 L1050.5 1731.1 L1052.5 1730.8 L1054.5 1730.5 L1056.5 1730.0 L1058.5 1729.4 L1060.5 1728.8 L1062.5 1728.0 L1064.5 1727.2 L1066.5 1726.2 L1068.5 1725.2 L1070.5 1724.1 L1072.5 1722.8 L1074.5 1721.5 L1076.5 1720.0 L1078.5 1718.4 L1080.5 1716.8 L1082.5 1715.0 L1084.5 1713.1 L1086.5 1711.1 L1088.5 1709.0 L1090.5 1706.8 L1092.5 1704.5 L1094.5 1702.1 L1096.5 1699.5 L1098.5 1696.9 L1100.5 1694.1 L1102.5 1691.2 L1104.5 1688.2 L1106.5 1685.1 L1108.5 1681.9 L1110.5 1678.5 L1112.5 1675.1 L1114.5 1671.5 L1116.5 1667.8 L1118.5 1664.0 L1120.5 1660.1 L1122.5 1656.1 L1124.5 1652.0 L1126.5 1647.7 L1128.5 1643.3 L1130.5 1638.8 L1132.5 1634.2 L1134.5 1629.5 L1136.5 1624.6 L1138.5 1619.7 L1140.5 1614.6 L1142.5 1609.4 L1144.5 1604.1"/>
<path class="ci" d="M188.5 2294.9 L190.5 2283.3 L192.5 2272.0 L194.5 2260.8 L196.5 2249.7 L198.5 2238.9 L200.5 2228.2 L202.5 2217.7 L204.5 2207.3 L206.5 2197.1 L208.5 2187.1 L210.5 2177.2 L212.5 2167.6 L214.5 2158.0 L216.5 2148.7 L218.5 2139.5 L220.5 2130.5 L222.5 2121.6 L224.5 2112.9 L226.5 2104.4 L228.5 2096.0 L230.5 2087.8 L232.5 2079.7 L234.5 2071.8 L236.5 2064.0 L238.5 2056.4 L240.5 2048.9 L242.5 2041.6 L244.5 2034.4 L246.5 2027.3 L248.5 2020.4 L250.5 2013.6 L252.5 2007.0 L254.5 2000.5 L256.5 1994.1 L258.5 1987.8 L260.5 1981.6 L262.5 1975.6 L264.5 1969.7 L266.5 1963.9 L268.5 1958.2 L270.5 1952.6 L272.5 1947.2 L274.5 1941.8 L276.5 1936.5 L278.5 1931.3 L280.5 1926.3 L282.5 1921.3 L284.5 1916.4 L286.5 1911.6 L288.5 1906.9 L290.5 1902.2 L292.5 1897.7 L294.5 1893.2 L296.5 1888.8 L298.5 1884.4 L300.5 1880.2 L302.5 1876.0 L304.5 1871.9 L306.5 1867.8 L308.5 1863.9 L310.5 1859.9 L312.5 1856.1 L314.5 1852.3 L316.5 1848.6 L318.5 1844.9 L320.5 1841.3 L322.5 1837.7 L324.5 1834.2 L326.5 1830.7 L328.5 1827.3 L330.5 1824.0 L332.5 1820.6 L334.5 1817.4 L336.5 1814.2 L338.5 1811.0 L340.5 1807.9 L342.5 1804.8 L344.5 1801.8 L346.5 1798.8 L348.5 1795.8 L350.5 1792.9 L352.5 1790.1 L354.5 1787.2 L356.5 1784.4 L358.5 1781.7 L360.5 1779.0 L362.5 1776.3 L364.5 1773.7 L366.5 1771.1 L368.5 1768.5 L370.5 1766.0 L372.5 1763.5 L374.5 1761.0 L376.5 1758.6 L378.5 1756.2 L380.5 1753.8 L382.5 1751.5 L384.5 1749.2 L386.5 1746.9 L388.5 1744.7 L390.5 1742.5 L392.5 1740.3 L394.5 1738.2 L396.5 1736.0 L398.5 1734.0 L400.5 1731.9 L402.5 1729.9 L404.5 1727.9 L406.5 1725.9 L408.5 1724.0 L410.5 1722.1 L412.5 1720.2 L414.5 1718.3 L416.5 1716.5 L418.5 1714.7 L420.5 1713.0 L422.5 1711.2 L424.5 1709.5 L426.5 1707.8 L428.5 1706.2 L430.5 1704.5 L432.5 1702.9 L434.5 1701.3 L436.5 1699.8 L438.5 1698.3 L440.5 1696.8 L442.5 1695.3 L444.5 1693.9 L446.5 1692.4 L448.5 1691.1 L450.5 1689.7 L452.5 1688.4 L454.5 1687.0 L456.5 1685.8 L458.5 1684.5 L460.5 1683.3 L462.5 1682.1 L464.5 1680.9 L466.5 1679.7 L468.5 1678.6 L470.5 1677.5 L472.5 1676.4 L474.5 1675.4 L476.5 1674.4 L478.5 1673.4 L480.5 1672.4 L482.5 1671.4 L484.5 1670.5 L486.5 1669.6 L488.5 1668.8 L490.5 1667.9 L492.5 1667.1 L494.5 1666.3 L496.5 1665.6 L498.5 1664.8 L500.5 1664.1 L502.5 1663.5 L504.5 1662.8 L506.5 1662.2 L508.5 1661.6 L510.5 1661.0 L512.5 1660.5 L514.5 1660.0 L516.5 1659.5 L518.5 1659.0 L520.5 1658.6 L522.5 1658.2 L524.5 1657.8 L526.5 1657.4 L528.5 1657.1 L530.5 1656.8 L532.5 1656.5 L534.5 1656.3 L536.5 1656.1 L538.5 1655.9 L540.5 1655.8 L542.5 1655.6 L544.5 1655.5 L546.5 1655.5 L548.5 1655.4 L550.5 1655.4 L552.5 1655.4 L554.5 1655.5 L556.5 1655.6 L558.5 1655.7 L560.5 1655.8 L562.5 1656.0 L564.5 1656.2 L566.5 1656.4 L568.5 1656.6 L570.5 1656.9 L572.5 1657.2 L574.5 1657.6 L576.5 1658.0 L578.5 1658.4 L580.5 1658.8 L582.5 1659.3 L584.5 1659.8 L586.5 1660.3 L588.5 1660.8 L590.5 1661.4 L592.5 1662.1 L594.5 1662.7 L596.5 1663.4 L598.5 1664.1 L600.5 1664.9 L602.5 1665.6 L604.5 1666.4 L606.5 1667.3 L608.5 1668.2 L610.5 1669.1 L612.5 1670.0 L614.5 1671.0 L616.5 1672.0 L618.5 1673.0 L620.5 1674.1 L622.5 1675.2 L624.5 1676.3 L626.5 1677.4 L628.5 1678.6 L630.5 1679.9 L632.5 1681.1 L634.5 1682.4 L636.5 1683.7 L638.5 1685.1 L640.5 1686.4 L642.5 1687.9 L644.5 1689.3 L646.5 1690.8 L648.5 1692.3 L650.5 1693.8 L652.5 1695.4 L654.5 1697.0 L656.5 1698.6 L658.5 1700.3 L660.5 1702.0 L662.5 1703.7 L664.5 1705.4 L666.5 1707.2 L668.5 1709.0 L670.5 1710.9 L672.5 1712.7 L674.5 1714.6 L676.5 1716.6 L678.5 1718.5 L680.5 1720.5 L682.5 1722.5 L684.5 1724.6 L686.5 1726.6 L688.5 1728.7 L690.5 1730.8 L692.5 1733.0 L694.5 1735.1 L696.5 1737.3 L698.5 1739.5 L700.5 1741.8 L702.5 1744.1 L704.5 1746.4 L706.5 1748.7 L708.5 1751.0 L710.5 1753.4 L712.5 1755.7 L714.5 1758.2 L716.5 1760.6 L718.5 1763.0 L720.5 1765.5 L722.5 1768.0 L724.5 1770.5 L726.5 1773.0 L728.5 1775.5 L730.5 1778.1 L732.5 1780.7 L734.5 1783.3 L736.5 1785.9 L738.5 1788.5 L740.5 1791.2 L742.5 1793.8 L744.5 1796.5 L746.5 1799.2 L748.5 1801.9 L750.5 1804.6 L752.5 1807.3 L754.5 1810.0 L756.5 1812.8 L758.5 1815.5 L760.5 1818.3 L762.5 1821.1 L764.5 1823.9 L766.5 1826.7 L768.5 1829.5 L770.5 1832.3 L772.5 1835.1 L774.5 1837.9 L776.5 1840.7 L778.5 1843.6 L780.5 1846.4 L782.5 1849.2 L784.5 1852.1 L786.5 1854.9 L788.5 1857.8 L790.5 1860.6 L792.5 1863.5 L794.5 1866.3 L796.5 1869.2 L798.5 1872.0 L800.5 1874.9 L802.5 1877.7 L804.5 1880.6 L806.5 1883.4 L808.5 1886.3 L810.5 1889.1 L812.5 1892.0 L814.5 1894.8 L816.5 1897.6 L818.5 1900.5 L820.5 1903.3 L822.5 1906.1 L824.5 1908.9 L826.5 1911.7 L828.5 1914.5 L830.5 1917.3 L832.5 1920.0 L834.5 1922.8 L836.5 1925.6 L838.5 1928.3 L840.5 1931.1 L842.5 1933.8 L844.5 1936.5 L846.5 1939.2 L848.5 1941.9 L850.5 1944.6 L852.5 1947.2 L854.5 1949.9 L856.5 1952.5 L858.5 1955.2 L860.5 1957.8 L862.5 1960.4 L864.5 1963.0 L866.5 1965.5 L868.5 1968.1 L870.5 1970.6 L872.5 1973.2 L874.5 1975.7 L876.5 1978.2 L878.5 1980.6 L880.5 1983.1 L882.5 1985.5 L884.5 1988.0 L886.5 1990.4 L888.5 1992.8 L890.5 1995.1 L892.5 1997.5 L894.5 1999.8 L896.5 2002.1 L898.5 2004.4 L900.5 2006.7 L902.5 2009.0 L904.5 2011.2 L906.5 2013.4 L908.5 2015.6 L910.5 2017.8 L912.5 2019.9 L914.5 2022.1 L916.5 2024.2 L918.5 2026.3 L920.5 2028.4 L922.5 2030.5 L924.5 2032.5 L926.5 2034.5 L928.5 2036.5 L930.5 2038.5 L932.5 2040.5 L934.5 2042.4 L936.5 2044.4 L938.5 2046.3 L940.5 2048.2 L942.5 2050.0 L944.5 2051.9 L946.5 2053.7 L948.5 2055.5 L950.5 2057.3 L952.5 2059.1 L954.5 2060.9 L956.5 2062.7 L958.5 2064.4 L960.5 2066.1 L962.5 2067.8 L964.5 2069.5 L966.5 2071.2 L968.5 2072.9 L970.5 2074.6 L972.5 2076.2 L974.5 2077.9 L976.5 2079.5 L978.5 2081.1 L980.5 2082.7 L982.5 2084.3 L984.5 2086.0 L986.5 2087.5 L988.5 2089.1 L990.5 2090.7 L992.5 2092.3 L994.5 2093.9 L996.5 2095.5 L998.5 2097.1 L1000.5 2098.7 L1002.5 2100.3 L1004.5 2101.9 L1006.5 2103.5 L1008.5 2105.1 L1010.5 2106.7 L1012.5 2108.3 L1014.5 2110.0 L1016.5 2111.6 L1018.5 2113.3 L1020.5 2115.0 L1022.5 2116.7 L1024.5 2118.4 L1026.5 2120.1 L1028.5 2121.9 L1030.5 2123.7 L1032.5 2125.5 L1034.5 2127.3 L1036.5 2129.1 L1038.5 2131.0 L1040.5 2132.9 L1042.5 2134.9 L1044.5 2136.8 L1046.5 2138.8 L1048.5 2140.9 L1050.5 2142.9 L1052.5 2145.1 L1054.5 2147.2 L1056.5 2149.4 L1058.5 2151.6 L1060.5 2153.9 L1062.5 2156.2 L1064.5 2158.5 L1066.5 2160.9 L1068.5 2163.3 L1070.5 2165.8 L1072.5 2168.3 L1074.5 2170.9 L1076.5 2173.5 L1078.5 2176.2 L1080.5 2178.9 L1082.5 2181.6 L1084.5 2184.4 L1086.5 2187.3 L1088.5 2190.2 L1090.5 2193.1 L1092.5 2196.1 L1094.5 2199.2 L1096.5 2202.3 L1098.5 2205.4 L1100.5 2208.6 L1102.5 2211.8 L1104.5 2215.1 L1106.5 2218.5 L1108.5 2221.9 L1110.5 2225.3 L1112.5 2228.8 L1114.5 2232.3 L1116.5 2235.9 L1118.5 2239.6 L1120.5 2243.3 L1122.5 2247.0 L1124.5 2250.8 L1126.5 2254.6 L1128.5 2258.5 L1130.5 2262.4 L1132.5 2266.4 L1134.5 2270.4 L1136.5 2274.4 L1138.5 2278.5 L1140.5 2282.7 L1142.5 2286.9 L1144.5 2291.1"/>
<path class="fit" d="M188.5 2061.0 L190.5 2052.7 L192.5 2044.4 L194.5 2036.2 L196.5 2028.1 L198.5 2020.0 L200.5 2012.0 L202.5 2004.1 L204.5 1996.2 L206.5 1988.4 L208.5 1980.7 L210.5 1973.0 L212.5 1965.5 L214.5 1957.9 L216.5 1950.5 L218.5 1943.1 L220.5 1935.8 L222.5 1928.5 L224.5 1921.3 L226.5 1914.2 L228.5 1907.1 L230.5 1900.1 L232.5 1893.2 L234.5 1886.3 L236.5 1879.5 L238.5 1872.8 L240.5 1866.1 L242.5 1859.5 L244.5 1852.9 L246.5 1846.5 L248.5 1840.0 L250.5 1833.7 L252.5 1827.4 L254.5 1821.2 L256.5 1815.0 L258.5 1808.9 L260.5 1802.8 L262.5 1796.8 L264.5 1790.9 L266.5 1785.0 L268.5 1779.2 L270.5 1773.5 L272.5 1767.8 L274.5 1762.2 L276.5 1756.6 L278.5 1751.1 L280.5 1745.7 L282.5 1740.3 L284.5 1735.0 L286.5 1729.7 L288.5 1724.5 L290.5 1719.3 L292.5 1714.2 L294.5 1709.2 L296.5 1704.2 L298.5 1699.3 L300.5 1694.5 L302.5 1689.6 L304.5 1684.9 L306.5 1680.2 L308.5 1675.6 L310.5 1671.0 L312.5 1666.5 L314.5 1662.0 L316.5 1657.6 L318.5 1653.2 L320.5 1648.9 L322.5 1644.7 L324.5 1640.5 L326.5 1636.3 L328.5 1632.3 L330.5 1628.2 L332.5 1624.3 L334.5 1620.3 L336.5 1616.5 L338.5 1612.6 L340.5 1608.9 L342.5 1605.2 L344.5 1601.5 L346.5 1597.9 L348.5 1594.3 L350.5 1590.8 L352.5 1587.4 L354.5 1584.0 L356.5 1580.6 L358.5 1577.3 L360.5 1574.1 L362.5 1570.9 L364.5 1567.7 L366.5 1564.6 L368.5 1561.6 L370.5 1558.6 L372.5 1555.6 L374.5 1552.7 L376.5 1549.9 L378.5 1547.1 L380.5 1544.3 L382.5 1541.6 L384.5 1538.9 L386.5 1536.3 L388.5 1533.8 L390.5 1531.3 L392.5 1528.8 L394.5 1526.4 L396.5 1524.0 L398.5 1521.6 L400.5 1519.4 L402.5 1517.1 L404.5 1514.9 L406.5 1512.8 L408.5 1510.7 L410.5 1508.6 L412.5 1506.6 L414.5 1504.6 L416.5 1502.7 L418.5 1500.8 L420.5 1499.0 L422.5 1497.2 L424.5 1495.5 L426.5 1493.8 L428.5 1492.1 L430.5 1490.5 L432.5 1488.9 L434.5 1487.4 L436.5 1485.9 L438.5 1484.4 L440.5 1483.0 L442.5 1481.6 L444.5 1480.3 L446.5 1479.0 L448.5 1477.8 L450.5 1476.6 L452.5 1475.4 L454.5 1474.3 L456.5 1473.2 L458.5 1472.2 L460.5 1471.1 L462.5 1470.2 L464.5 1469.3 L466.5 1468.4 L468.5 1467.5 L470.5 1466.7 L472.5 1465.9 L474.5 1465.2 L476.5 1464.5 L478.5 1463.8 L480.5 1463.2 L482.5 1462.6 L484.5 1462.1 L486.5 1461.6 L488.5 1461.1 L490.5 1460.6 L492.5 1460.2 L494.5 1459.9 L496.5 1459.5 L498.5 1459.2 L500.5 1459.0 L502.5 1458.8 L504.5 1458.6 L506.5 1458.4 L508.5 1458.3 L510.5 1458.2 L512.5 1458.1 L514.5 1458.1 L516.5 1458.1 L518.5 1458.2 L520.5 1458.2 L522.5 1458.3 L524.5 1458.5 L526.5 1458.6 L528.5 1458.9 L530.5 1459.1 L532.5 1459.4 L534.5 1459.7 L536.5 1460.0 L538.5 1460.3 L540.5 1460.7 L542.5 1461.2 L544.5 1461.6 L546.5 1462.1 L548.5 1462.6 L550.5 1463.1 L552.5 1463.7 L554.5 1464.3 L556.5 1464.9 L558.5 1465.6 L560.5 1466.3 L562.5 1467.0 L564.5 1467.7 L566.5 1468.5 L568.5 1469.3 L570.5 1470.1 L572.5 1471.0 L574.5 1471.8 L576.5 1472.7 L578.5 1473.7 L580.5 1474.6 L582.5 1475.6 L584.5 1476.6 L586.5 1477.6 L588.5 1478.7 L590.5 1479.8 L592.5 1480.9 L594.5 1482.0 L596.5 1483.2 L598.5 1484.3 L600.5 1485.6 L602.5 1486.8 L604.5 1488.0 L606.5 1489.3 L608.5 1490.6 L610.5 1491.9 L612.5 1493.3 L614.5 1494.6 L616.5 1496.0 L618.5 1497.4 L620.5 1498.9 L622.5 1500.3 L624.5 1501.8 L626.5 1503.3 L628.5 1504.8 L630.5 1506.3 L632.5 1507.9 L634.5 1509.5 L636.5 1511.1 L638.5 1512.7 L640.5 1514.3 L642.5 1516.0 L644.5 1517.6 L646.5 1519.3 L648.5 1521.0 L650.5 1522.8 L652.5 1524.5 L654.5 1526.3 L656.5 1528.1 L658.5 1529.9 L660.5 1531.7 L662.5 1533.5 L664.5 1535.4 L666.5 1537.2 L668.5 1539.1 L670.5 1541.0 L672.5 1542.9 L674.5 1544.9 L676.5 1546.8 L678.5 1548.8 L680.5 1550.8 L682.5 1552.8 L684.5 1554.8 L686.5 1556.8 L688.5 1558.8 L690.5 1560.9 L692.5 1562.9 L694.5 1565.0 L696.5 1567.1 L698.5 1569.2 L700.5 1571.3 L702.5 1573.5 L704.5 1575.6 L706.5 1577.7 L708.5 1579.9 L710.5 1582.1 L712.5 1584.3 L714.5 1586.5 L716.5 1588.7 L718.5 1590.9 L720.5 1593.1 L722.5 1595.4 L724.5 1597.6 L726.5 1599.9 L728.5 1602.2 L730.5 1604.4 L732.5 1606.7 L734.5 1609.0 L736.5 1611.3 L738.5 1613.7 L740.5 1616.0 L742.5 1618.3 L744.5 1620.7 L746.5 1623.0 L748.5 1625.4 L750.5 1627.7 L752.5 1630.1 L754.5 1632.5 L756.5 1634.9 L758.5 1637.3 L760.5 1639.7 L762.5 1642.1 L764.5 1644.5 L766.5 1646.9 L768.5 1649.3 L770.5 1651.7 L772.5 1654.2 L774.5 1656.6 L776.5 1659.0 L778.5 1661.5 L780.5 1663.9 L782.5 1666.4 L784.5 1668.8 L786.5 1671.3 L788.5 1673.7 L790.5 1676.2 L792.5 1678.7 L794.5 1681.1 L796.5 1683.6 L798.5 1686.1 L800.5 1688.5 L802.5 1691.0 L804.5 1693.5 L806.5 1696.0 L808.5 1698.4 L810.5 1700.9 L812.5 1703.4 L814.5 1705.9 L816.5 1708.4 L818.5 1710.8 L820.5 1713.3 L822.5 1715.8 L824.5 1718.3 L826.5 1720.7 L828.5 1723.2 L830.5 1725.7 L832.5 1728.2 L834.5 1730.6 L836.5 1733.1 L838.5 1735.6 L840.5 1738.0 L842.5 1740.5 L844.5 1742.9 L846.5 1745.4 L848.5 1747.8 L850.5 1750.3 L852.5 1752.7 L854.5 1755.1 L856.5 1757.6 L858.5 1760.0 L860.5 1762.4 L862.5 1764.8 L864.5 1767.2 L866.5 1769.7 L868.5 1772.0 L870.5 1774.4 L872.5 1776.8 L874.5 1779.2 L876.5 1781.6 L878.5 1783.9 L880.5 1786.3 L882.5 1788.7 L884.5 1791.0 L886.5 1793.3 L888.5 1795.7 L890.5 1798.0 L892.5 1800.3 L894.5 1802.6 L896.5 1804.9 L898.5 1807.2 L900.5 1809.5 L902.5 1811.7 L904.5 1814.0 L906.5 1816.2 L908.5 1818.5 L910.5 1820.7 L912.5 1822.9 L914.5 1825.1 L916.5 1827.3 L918.5 1829.5 L920.5 1831.6 L922.5 1833.8 L924.5 1835.9 L926.5 1838.1 L928.5 1840.2 L930.5 1842.3 L932.5 1844.4 L934.5 1846.5 L936.5 1848.5 L938.5 1850.6 L940.5 1852.6 L942.5 1854.7 L944.5 1856.7 L946.5 1858.7 L948.5 1860.7 L950.5 1862.6 L952.5 1864.6 L954.5 1866.5 L956.5 1868.4 L958.5 1870.3 L960.5 1872.2 L962.5 1874.1 L964.5 1876.0 L966.5 1877.8 L968.5 1879.6 L970.5 1881.4 L972.5 1883.2 L974.5 1885.0 L976.5 1886.7 L978.5 1888.5 L980.5 1890.2 L982.5 1891.9 L984.5 1893.6 L986.5 1895.2 L988.5 1896.9 L990.5 1898.5 L992.5 1900.1 L994.5 1901.7 L996.5 1903.2 L998.5 1904.8 L1000.5 1906.3 L1002.5 1907.8 L1004.5 1909.3 L1006.5 1910.7 L1008.5 1912.2 L1010.5 1913.6 L1012.5 1915.0 L1014.5 1916.4 L1016.5 1917.7 L1018.5 1919.0 L1020.5 1920.3 L1022.5 1921.6 L1024.5 1922.9 L1026.5 1924.1 L1028.5 1925.3 L1030.5 1926.5 L1032.5 1927.7 L1034.5 1928.8 L1036.5 1929.9 L1038.5 1931.0 L1040.5 1932.1 L1042.5 1933.1 L1044.5 1934.1 L1046.5 1935.1 L1048.5 1936.1 L1050.5 1937.0 L1052.5 1937.9 L1054.5 1938.8 L1056.5 1939.7 L1058.5 1940.5 L1060.5 1941.3 L1062.5 1942.1 L1064.5 1942.8 L1066.5 1943.6 L1068.5 1944.3 L1070.5 1944.9 L1072.5 1945.6 L1074.5 1946.2 L1076.5 1946.7 L1078.5 1947.3 L1080.5 1947.8 L1082.5 1948.3 L1084.5 1948.8 L1086.5 1949.2 L1088.5 1949.6 L1090.5 1950.0 L1092.5 1950.3 L1094.5 1950.6 L1096.5 1950.9 L1098.5 1951.1 L1100.5 1951.3 L1102.5 1951.5 L1104.5 1951.7 L1106.5 1951.8 L1108.5 1951.9 L1110.5 1951.9 L1112.5 1952.0 L1114.5 1951.9 L1116.5 1951.9 L1118.5 1951.8 L1120.5 1951.7 L1122.5 1951.5 L1124.5 1951.4 L1126.5 1951.1 L1128.5 1950.9 L1130.5 1950.6 L1132.5 1950.3 L1134.5 1949.9 L1136.5 1949.5 L1138.5 1949.1 L1140.5 1948.6 L1142.5 1948.1 L1144.5 1947.6"/>
</g>
<circle class="pt" cx="193.7" cy="241.7" r="12.2"/>
<circle class="pt" cx="193.7" cy="236.6" r="12.2"/>
<circle class="pt" cx="188.6" cy="263.7" r="12.2"/>
<circle class="pt" cx="188.6" cy="311.1" r="12.2"/>
<circle class="pt" cx="301.7" cy="554.8" r="12.2"/>
<circle class="pt" cx="404.9" cy="591.9" r="12.2"/>
<circle class="pt" cx="405.5" cy="801.5" r="12.2"/>
<circle class="pt" cx="504.8" cy="864.2" r="12.2"/>
<circle class="pt" cx="571.4" cy="739.6" r="12.2"/>
<circle class="pt" cx="640.9" cy="477.7" r="12.2"/>
<circle class="pt" cx="657.3" cy="573.3" r="12.2"/>
<circle class="pt" cx="775.2" cy="871.6" r="12.2"/>
<circle class="pt" cx="788.4" cy="781.1" r="12.2"/>
<circle class="pt" cx="910.6" cy="600.5" r="12.2"/>
<circle class="pt" cx="927.7" cy="697.6" r="12.2"/>
<circle class="pt" cx="932.9" cy="402.1" r="12.2"/>
<circle class="pt" cx="991.8" cy="678.6" r="12.2"/>
<circle class="pt" cx="1127.4" cy="627.5" r="12.2"/>
<circle class="pt" cx="1144.5" cy="570.0" r="12.2"/>
<circle class="pt" cx="187.6" cy="2033.5" r="12.2"/>
<circle class="pt" cx="188.2" cy="2036.0" r="12.2"/>
<circle class="pt" cx="193.1" cy="2006.9" r="12.2"/>
<circle class="pt" cx="193.1" cy="1989.8" r="12.2"/>
<circle class="pt" cx="301.2" cy="2017.9" r="12.2"/>
<circle class="pt" cx="405.3" cy="1210.1" r="12.2"/>
<circle class="pt" cx="405.3" cy="1609.8" r="12.2"/>
<circle class="pt" cx="504.4" cy="1751.2" r="12.2"/>
<circle class="pt" cx="570.9" cy="1182.7" r="12.2"/>
<circle class="pt" cx="640.4" cy="1528.6" r="12.2"/>
<circle class="pt" cx="657.3" cy="1395.3" r="12.2"/>
<circle class="pt" cx="774.8" cy="1490.0" r="12.2"/>
<circle class="pt" cx="788.3" cy="2010.9" r="12.2"/>
<circle class="pt" cx="910.5" cy="1459.4" r="12.2"/>
<circle class="pt" cx="927.1" cy="1973.5" r="12.2"/>
<circle class="pt" cx="932.6" cy="2033.7" r="12.2"/>
<circle class="pt" cx="991.7" cy="1976.0" r="12.2"/>
<circle class="pt" cx="1127.1" cy="1839.7" r="12.2"/>
<circle class="pt" cx="1144.0" cy="1991.2" r="12.2"/>
<text class="h" x="708.6" y="40.6" text-anchor="middle">Approximate days cadaver in field</text>
<text class="h" transform="translate(35.1 85.9) scale(1 1.02)">A</text>
<text class="h" transform="translate(32.7 1156.9) scale(1 1.02)">B</text>
<text class="h" x="708" y="2161.6" text-anchor="middle">Cumulative precipitation (mm)</text>
<text class="h" style="font-size:45.5px" transform="translate(77.2 581.4) rotate(-90)" text-anchor="middle">Citric acid respiration (%)</text>
<text class="h" style="letter-spacing:-.2px" transform="translate(40.2 1603.2) rotate(-90)" text-anchor="middle">Mineralizable C</text>
<g transform="translate(100.1 1895.1) rotate(-90)">
<text class="h" x="0" y="0">(CO</text>
<text class="hs" x="83.20" y="14.2">2</text>
<text class="h" x="102.39" y="0">-C [mg g dry wt soil</text>
<text class="hs" x="523.52" y="-17.9">-</text>
<path d="M806 0H525V1059Q371 915 162 846V1101Q272 1137 401 1237.5T578 1472H806Z" transform="translate(535.00 -17.9) scale(0.01685 -0.01685)"/>
<text class="h" x="554.19" y="0">])</text>
</g>
<text class="b" font-size="40.4" transform="translate(176.87 116.80) scale(1 1.0405)">0</text>
<path d="M806 0H525V1059Q371 915 162 846V1101Q272 1137 401 1237.5T578 1472H806Z" transform="translate(294.06 116.80) scale(0.01973 -0.01973)"/>
<text class="b" font-size="40.4" transform="translate(316.53 116.80) scale(1 1.0405)">00</text>
<text class="b" font-size="40.4" transform="translate(433.72 116.80) scale(1 1.0405)">200</text>
<text class="b" font-size="40.4" transform="translate(573.38 116.80) scale(1 1.0405)">300</text>
<text class="b" font-size="40.4" transform="translate(713.04 116.80) scale(1 1.0405)">400</text>
<text class="b" font-size="40.4" transform="translate(852.70 116.80) scale(1 1.0405)">500</text>
<text class="b" font-size="40.4" transform="translate(992.36 116.80) scale(1 1.0405)">600</text>
<text class="b" font-size="40.4" transform="translate(1132.02 116.80) scale(1 1.0405)">700</text>
<text class="b" font-size="40.4" transform="translate(150.24 1046.20) scale(1 1.0405)">0</text>
<text class="b" font-size="40.4" transform="translate(150.24 935.40) scale(1 1.0405)">5</text>
<path d="M806 0H525V1059Q371 915 162 846V1101Q272 1137 401 1237.5T578 1472H806Z" transform="translate(127.77 824.60) scale(0.01973 -0.01973)"/>
<text class="b" font-size="40.4" transform="translate(150.24 824.60) scale(1 1.0405)">0</text>
<path d="M806 0H525V1059Q371 915 162 846V1101Q272 1137 401 1237.5T578 1472H806Z" transform="translate(127.77 713.80) scale(0.01973 -0.01973)"/>
<text class="b" font-size="40.4" transform="translate(150.24 713.80) scale(1 1.0405)">5</text>
<text class="b" font-size="40.4" transform="translate(127.77 603.00) scale(1 1.0405)">20</text>
<text class="b" font-size="40.4" transform="translate(127.77 492.20) scale(1 1.0405)">25</text>
<text class="b" font-size="40.4" transform="translate(127.77 381.40) scale(1 1.0405)">30</text>
<text class="b" font-size="40.4" transform="translate(127.77 270.60) scale(1 1.0405)">35</text>
<text class="b" font-size="40.4" transform="translate(127.77 159.80) scale(1 1.0405)">40</text>
<text class="b" font-size="40.4" transform="translate(150.24 2067.60) scale(1 1.0405)">0</text>
<path d="M806 0H525V1059Q371 915 162 846V1101Q272 1137 401 1237.5T578 1472H806Z" transform="translate(150.24 1969.17) scale(0.01973 -0.01973)"/>
<text class="b" font-size="40.4" transform="translate(150.24 1870.74) scale(1 1.0405)">2</text>
<text class="b" font-size="40.4" transform="translate(150.24 1772.31) scale(1 1.0405)">3</text>
<text class="b" font-size="40.4" transform="translate(150.24 1673.88) scale(1 1.0405)">4</text>
<text class="b" font-size="40.4" transform="translate(150.24 1575.45) scale(1 1.0405)">5</text>
<text class="b" font-size="40.4" transform="translate(150.24 1477.02) scale(1 1.0405)">6</text>
<text class="b" font-size="40.4" transform="translate(150.24 1378.59) scale(1 1.0405)">7</text>
<text class="b" font-size="40.4" transform="translate(150.24 1280.16) scale(1 1.0405)">8</text>
<text class="b" font-size="40.4" transform="translate(150.24 1181.73) scale(1 1.0405)">9</text>
<text class="b" font-size="40.4" transform="translate(177.27 2105.90) scale(1 1.0405)">0</text>
<text class="b" font-size="40.4" transform="translate(501.67 2105.90) scale(1 1.0405)">500</text>
<path d="M806 0H525V1059Q371 915 162 846V1101Q272 1137 401 1237.5T578 1472H806Z" transform="translate(837.30 2105.90) scale(0.01973 -0.01973)"/>
<text class="b" font-size="40.4" transform="translate(859.77 2105.90) scale(1 1.0405)">000</text>
<path d="M806 0H525V1059Q371 915 162 846V1101Q272 1137 401 1237.5T578 1472H806Z" transform="translate(1184.17 2105.90) scale(0.01973 -0.01973)"/>
<text class="b" font-size="40.4" transform="translate(1206.63 2105.90) scale(1 1.0405)">500</text>
<text class="b" font-size="40.4" x="188.5" y="1084.3" text-anchor="middle" style="fill:#fff;stroke:#f4fbfd;stroke-width:.5">0</text>
<text class="b" font-size="40.4" x="535.4" y="1084.3" text-anchor="middle" style="fill:#fff;stroke:#f4fbfd;stroke-width:.5">500</text>
<text class="b" font-size="40.4" x="882.2" y="1084.3" text-anchor="middle" style="fill:#fff;stroke:#f4fbfd;stroke-width:.5">1000</text>
<text class="b" font-size="40.4" x="1229.1" y="1084.3" text-anchor="middle" style="fill:#fff;stroke:#f4fbfd;stroke-width:.5">1500</text>
<text class="r" font-size="33.4" transform="translate(799.30 183.50) scale(1 1.0405)">y = 0.32 - 0.05 x + 3.0e</text>
<text class="r" font-size="25" transform="translate(1142.90 171.50) scale(1 1.0405)">-5</text>
<text class="r" font-size="33.4" transform="translate(1170.70 183.50) scale(1 1.0405)">x</text>
<text class="r" font-size="25" transform="translate(1188.30 171.20) scale(1 1.0405)">2</text>
<text class="r" font-size="33.4" transform="translate(798.70 225.30) scale(1 1.0405)">F</text>
<text class="r" font-size="25" transform="translate(819.30 237.30) scale(1 1.0405)">2,</text>
<path class="r1" d="M763 0H583V1147Q518 1085 412.5 1023T223 930V1104Q374 1175 487 1276T647 1472H763Z" transform="translate(840.15 237.30) scale(0.01221 -0.01221)"/>
<text class="r" font-size="25" transform="translate(854.05 237.30) scale(1 1.0405)">6</text>
<text class="r" font-size="33.4" transform="translate(876.70 225.30) scale(1 1.0405)">=</text>
<path class="r1" d="M763 0H583V1147Q518 1085 412.5 1023T223 930V1104Q374 1175 487 1276T647 1472H763Z" transform="translate(905.48 225.30) scale(0.01631 -0.01631)"/>
<text class="r" font-size="33.4" transform="translate(924.05 225.30) scale(1 1.0405)">0.6</text>
<text class="r" font-size="33.4" font-style="italic" transform="translate(798.6 275.6) scale(1 1.0405)">P</text>
<text class="r" font-size="33.4" transform="translate(830.15 275.60) scale(1 1.0405)">&lt; 0.0</text>
<path class="r1" d="M763 0H583V1147Q518 1085 412.5 1023T223 930V1104Q374 1175 487 1276T647 1472H763Z" transform="translate(905.34 275.60) scale(0.01631 -0.01631)"/>
<text class="r" font-size="33.4" transform="translate(798.50 319.90) scale(1 1.0405)">r</text>
<text class="r" font-size="25" transform="translate(809.90 308.80) scale(1 1.0405)">2</text>
<text class="r" font-size="33.4" transform="translate(832.50 319.90) scale(1 1.0405)">= 0.57</text>
<text class="r" font-size="33.4" transform="translate(637.40 1207.80) scale(1 1.0405)">y = -0.</text>
<path class="r1" d="M763 0H583V1147Q518 1085 412.5 1023T223 930V1104Q374 1175 487 1276T647 1472H763Z" transform="translate(731.12 1207.80) scale(0.01631 -0.01631)"/>
<path class="r1" d="M763 0H583V1147Q518 1085 412.5 1023T223 930V1104Q374 1175 487 1276T647 1472H763Z" transform="translate(747.21 1207.80) scale(0.01631 -0.01631)"/>
<text class="r" font-size="33.4" transform="translate(775.05 1207.80) scale(1 1.0405)">+ 0.03 x - 4.3e</text>
<text class="r" font-size="25" transform="translate(987.90 1196.10) scale(1 1.0405)">-5</text>
<text class="r" font-size="33.4" transform="translate(1016.30 1207.80) scale(1 1.0405)">x</text>
<text class="r" font-size="25" transform="translate(1034.40 1196.10) scale(1 1.0405)">2</text>
<text class="r" font-size="33.4" transform="translate(1057.40 1207.80) scale(1 1.0405)">+</text>
<path class="r1" d="M763 0H583V1147Q518 1085 412.5 1023T223 930V1104Q374 1175 487 1276T647 1472H763Z" transform="translate(1086.18 1207.80) scale(0.01631 -0.01631)"/>
<text class="r" font-size="33.4" transform="translate(1104.75 1207.80) scale(1 1.0405)">.6e</text>
<text class="r" font-size="25" transform="translate(1150.40 1196.10) scale(1 1.0405)">-8</text>
<text class="r" font-size="33.4" transform="translate(1179.50 1207.80) scale(1 1.0405)">x</text>
<text class="r" font-size="25" transform="translate(1198.10 1196.10) scale(1 1.0405)">3</text>
<text class="r" font-size="33.4" transform="translate(1038.50 1249.90) scale(1 1.0405)">F</text>
<text class="r" font-size="25" transform="translate(1059.60 1260.30) scale(1 1.0405)">3,</text>
<path class="r1" d="M763 0H583V1147Q518 1085 412.5 1023T223 930V1104Q374 1175 487 1276T647 1472H763Z" transform="translate(1080.45 1260.30) scale(0.01221 -0.01221)"/>
<text class="r" font-size="25" transform="translate(1094.35 1260.30) scale(1 1.0405)">5</text>
<text class="r" font-size="33.4" transform="translate(1116.50 1249.90) scale(1 1.0405)">= 5.93</text>
<text class="r" font-size="33.4" font-style="italic" transform="translate(1084.5 1298.6) scale(1 1.0405)">P</text>
<text class="r" font-size="33.4" transform="translate(1116.05 1298.60) scale(1 1.0405)">&lt; 0.0</text>
<path class="r1" d="M763 0H583V1147Q518 1085 412.5 1023T223 930V1104Q374 1175 487 1276T647 1472H763Z" transform="translate(1191.24 1298.60) scale(0.01631 -0.01631)"/>
<text class="r" font-size="33.4" transform="translate(1082.80 1343.90) scale(1 1.0405)">r</text>
<text class="r" font-size="25" transform="translate(1094.60 1332.40) scale(1 1.0405)">2</text>
<text class="r" font-size="33.4" transform="translate(1117.00 1343.90) scale(1 1.0405)">= 0.54</text>
</svg></body></html>
